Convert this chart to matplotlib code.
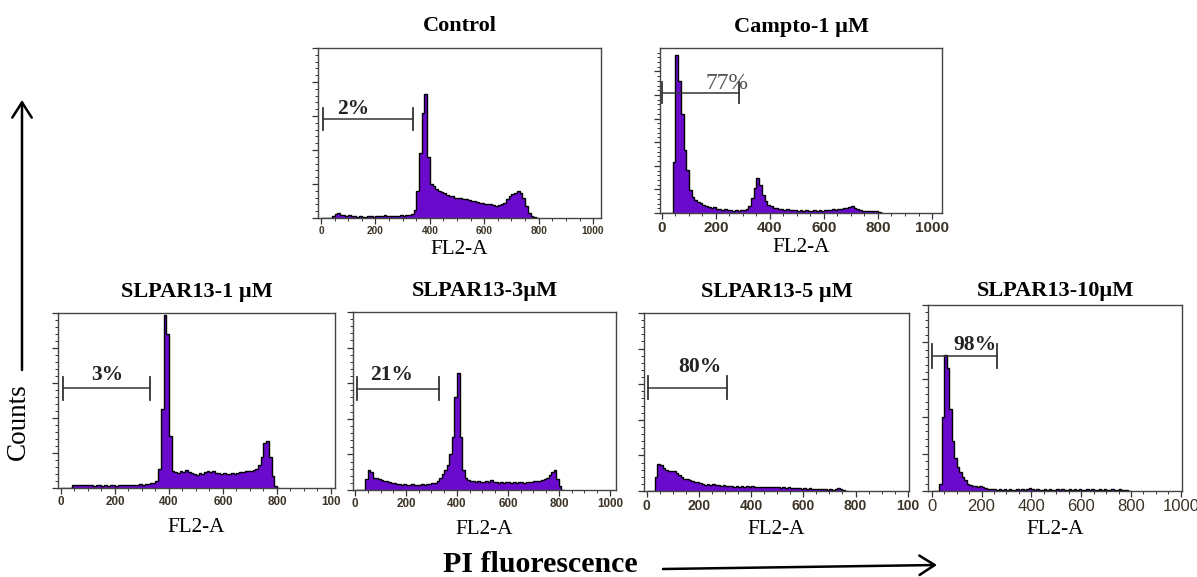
"""
Cell-cycle histograms (PI staining): Control, Campto and SLPAR13 doses.
"""
import numpy as np
import matplotlib
matplotlib.use("Agg")
import matplotlib.pyplot as plt
from matplotlib.patches import FancyArrowPatch
from matplotlib.ticker import MultipleLocator, AutoMinorLocator

plt.rcParams['font.family'] = ['Liberation Serif', 'DejaVu Serif']

# ---- data (counts in % of the panel's full scale, 10-channel bins from 0) ----
titles = ["Control", "Campto-1 µM", "SLPAR13-1 µM", "SLPAR13-3µM",
          "SLPAR13-5 µM", "SLPAR13-10µM"]

control = [0, 0, 0, 0, 1, 2.5, 3, 2, 1.5, 1,
           1.5, 1, 1.2, 0.8, 1, 0.8, 0.7, 1, 1.2, 0.8,
           1, 1.3, 1, 1.5, 1.2, 1, 1.3, 1, 1.4, 1.6,
           1.4, 1.8, 2, 2.5, 5, 16, 38, 62, 73, 36,
           20, 19, 17, 16, 15.5, 14.5, 13.5, 13, 13, 12,
           12, 11.5, 11, 11, 10.5, 10, 10, 9.5, 9, 9,
           8.5, 8, 8, 7.5, 7, 7.5, 8, 9, 11, 13,
           14, 15, 16, 15, 12, 7, 3, 1, 0.5, 0]

campto = [0, 0, 0, 0, 31, 96, 80, 60, 38, 26,
          14, 10, 8, 6.5, 6, 5, 4, 3.5, 3, 3.5,
          2.5, 2.5, 2, 2.5, 2, 2, 1.5, 2, 1.5, 2,
          2, 2.5, 4, 9, 15, 21, 17, 11, 7, 5,
          4, 3, 3, 2.5, 2.5, 2, 2.5, 2, 2, 2,
          1.5, 2, 1.5, 2, 1.5, 1.5, 2, 1.5, 2, 1.5,
          2, 2, 2, 2.5, 2, 2.5, 2.5, 3, 3, 3.5,
          4, 3, 2.5, 2, 1.5, 1.5, 1.5, 1, 1, 1,
          0.5, 0]

slpar_1 = [0, 0, 0, 0, 1.5, 2, 2, 1.5, 2, 1.5,
           2, 1.5, 1, 1.5, 1.5, 1, 1.5, 1, 1.5, 1.5,
           1, 1.5, 1.5, 2, 1.5, 2, 1.5, 2, 2, 2.5,
           2, 2.5, 2.5, 3, 3, 4, 11, 45, 99, 88,
           30, 10, 9, 8.5, 9.5, 9, 10.5, 9, 8.5, 8,
           7.5, 8.5, 8, 9, 10, 9, 9.5, 8.5, 8.5, 8,
           8.5, 8, 8, 8.5, 8, 8.5, 9, 9, 9.5, 10,
           10, 10.5, 11, 13, 18, 26, 27, 18, 7, 1,
           0]

slpar_3 = [0, 0, 0, 0, 6, 11, 10, 7, 6.5, 6,
           5.5, 5, 5, 4.5, 4, 4, 3.5, 3.5, 3, 3.5,
           3, 3, 3.5, 3, 3, 3, 3.5, 3, 3.5, 3.5,
           4, 4, 5, 6.5, 9, 11, 14, 20, 30, 52,
           66, 30, 11, 7, 5.5, 5, 5, 4.5, 5, 4.5,
           4.5, 5, 4.5, 5.5, 4.5, 4.5, 4, 4.5, 4, 4.5,
           4.5, 4, 4.5, 4, 4.5, 4.5, 4, 4.5, 4.5, 4.5,
           5, 5, 5, 5.5, 6, 7, 8.5, 10, 11, 6,
           2, 0]

slpar_5 = [0, 0, 0, 8, 15, 14.5, 13, 12, 11.5, 11,
           11, 10, 9, 8, 7, 6.5, 6, 5.5, 5, 5,
           4.5, 4, 3.5, 4, 3.5, 4, 3.5, 3.5, 3, 3.5,
           3, 3, 3, 2.5, 3, 2.5, 3, 2.5, 3, 2.5,
           3, 2.5, 2.5, 2, 2.5, 2, 2.5, 2, 2, 2,
           2, 1.5, 2, 1.5, 2, 1.5, 1.5, 1.5, 1.5, 1,
           1.5, 1, 1.5, 1, 1, 1, 1, 1, 1, 0.5,
           1, 0.5, 1, 1.5, 1, 0.5, 0]

slpar_10 = [0, 0, 0, 4, 40, 73, 66, 44, 27, 18,
            13, 10, 7.5, 6, 4, 3, 2.5, 2.5, 2, 2.5,
            2, 1.5, 1, 1, 1, 1, 0.5, 1, 0.5, 1,
            0.5, 1, 0.5, 0.5, 1, 0.5, 1, 0.5, 1, 1.5,
            1, 0.5, 1, 0.5, 0.5, 1, 0.5, 1, 0.5, 0.5,
            1, 0.5, 1, 0.5, 0.5, 1, 0.5, 1, 0.5, 1,
            0.5, 0.5, 1, 0.5, 1, 0.5, 0.5, 1, 0.5, 1,
            0.5, 0.5, 1, 0.5, 0.5, 1, 0.5, 0.5, 0.5, 0]

histograms = [control, campto, slpar_1, slpar_3, slpar_5, slpar_10]
bin_width = 10

# M1 gate (channel range, level in %) and percentage of cells in sub-G1
gate_lo = [6, 0, 9, 7, 3, 0]
gate_hi = [339, 284, 330, 330, 307, 264]
gate_y = [58, 73, 57, 57, 58, 72.5]
gate_text = ["2%", "77%", "3%", "21%", "80%", "98%"]

tick_vals = [0, 200, 400, 600, 800, 1000]
tick_labels = [
    ["0", "200", "400", "600", "800", "1000"],
    ["0", "200", "400", "600", "800", "1000"],
    ["0", "200", "400", "600", "800", "100"],
    ["0", "200", "400", "600", "800", "1000"],
    ["0", "200", "400", "600", "800", "100"],
    ["0", "200", "400", "600", "800", "1000"],
]

# ---- layout (pixel boxes of the 1197x577 picture: left, top, right, bottom) ----
W, H = 1197, 577
boxes = [(318, 48, 601, 218), (660, 48, 942, 213),
         (58, 313, 335, 488), (353, 312, 616, 490),
         (644, 313, 909, 491), (928, 305, 1182, 491)]
xlims = [(-11, 1029), (-7, 1037), (-11, 1015), (-8, 1024), (-11, 1005), (-15, 1005)]
tick_size = [7.3, 11, 8.4, 8.4, 10, 12]
tick_bold = [True, True, True, True, True, False]
y_major = [20, 14.3, 20, 20, 20, 20]
label_pos = [(117, 61), (240, 75), (172, 62), (144, 62), (203, 67), (175, 76)]
title_off = [22, 21, 21, 21, 21, 14]   # px above the frame
xlabel_off = [32, 35, 39, 39, 39, 39]  # px below the frame

PURPLE = "#6a0acc"
px2pt = 72 / 100

fig = plt.figure(figsize=(W / 100, H / 100), dpi=100)

for i, counts in enumerate(histograms):
    l, t, r, b = boxes[i]
    ax = fig.add_axes([l / W, (H - b) / H, (r - l) / W, (b - t) / H])
    edges = np.arange(len(counts) + 1) * bin_width
    ax.stairs(counts, edges, fill=True, color=PURPLE, lw=0)
    ax.stairs(counts, edges, color="black", lw=1.0)

    # gate marker
    gy = gate_y[i]
    ax.plot([gate_lo[i], gate_hi[i]], [gy, gy], color="#333333", lw=1.1)
    for gx in (gate_lo[i], gate_hi[i]):
        ax.plot([gx, gx], [gy - 6.5, gy + 6.5], color="#333333", lw=1.3)
    tx, ty = label_pos[i]
    if i == 1:
        ax.text(tx, ty, gate_text[i], ha="center", va="baseline",
                fontsize=17, color="#555555")
    else:
        ax.text(tx, ty, gate_text[i], ha="center", va="baseline",
                fontsize=15.5, fontweight="bold", color="#222222")

    ax.set_xlim(*xlims[i])
    ax.set_ylim(0, 100)
    ax.set_xticks(tick_vals)
    ax.set_xticklabels(tick_labels[i], family="Liberation Sans",
                       fontsize=tick_size[i],
                       fontweight="bold" if tick_bold[i] else "normal",
                       color="#3b3326")
    ax.xaxis.set_minor_locator(AutoMinorLocator(4))
    ax.yaxis.set_major_locator(MultipleLocator(y_major[i]))
    ax.yaxis.set_minor_locator(AutoMinorLocator(5))
    ax.set_yticklabels([])
    ax.tick_params(which="major", direction="out", length=4, width=0.9,
                   color="#333333", pad=2)
    ax.tick_params(which="minor", direction="out", length=2, width=0.7,
                   color="#333333")
    for sp in ax.spines.values():
        sp.set_color("#444444")
        sp.set_linewidth(1.0)

    ax.annotate(titles[i], xy=(0.5, 1), xycoords="axes fraction",
                xytext=(0, title_off[i] * px2pt), textcoords="offset points",
                ha="center", va="center", fontsize=16, fontweight="bold")
    ax.annotate("FL2-A", xy=(0.5, 0), xycoords="axes fraction",
                xytext=(0, -xlabel_off[i] * px2pt), textcoords="offset points",
                ha="center", va="center", fontsize=15.3)

# axis captions with arrows
fig.text(18 / W, (H - 422) / H, "Counts", rotation=90, ha="center",
         va="center", fontsize=19.5)
fig.text(540 / W, 5 / H, "PI fluorescence", ha="center", va="baseline",
         fontsize=21.5, fontweight="bold")

arrow = dict(arrowstyle="->,head_length=0.55,head_width=0.35", lw=1.8,
             color="black", shrinkA=0, shrinkB=0, mutation_scale=20)
fig.add_artist(FancyArrowPatch(
    (22 / W, (H - 370) / H), (22 / W, (H - 100) / H),
    transform=fig.transFigure, **arrow))
fig.add_artist(FancyArrowPatch(
    (663 / W, (H - 569) / H), (937 / W, (H - 565) / H),
    transform=fig.transFigure, **arrow))

fig.savefig("out.png", dpi=100)
